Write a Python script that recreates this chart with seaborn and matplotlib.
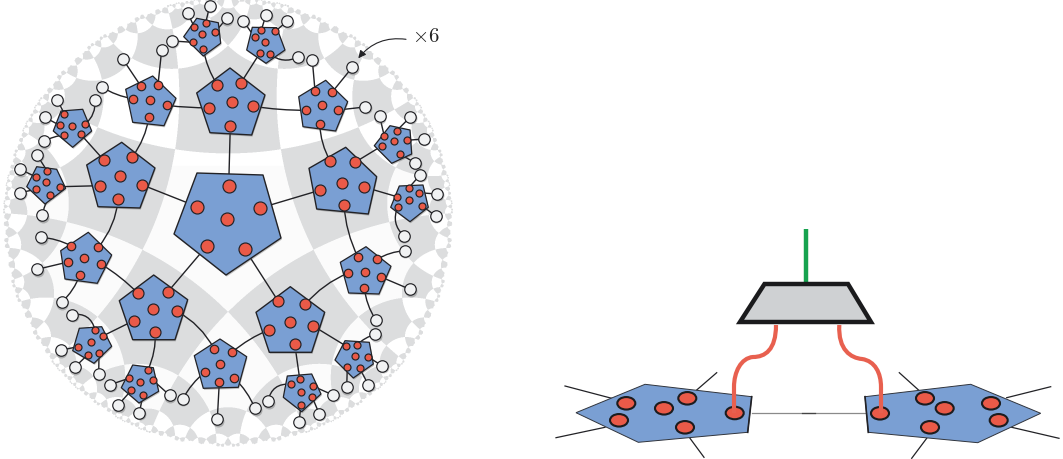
import numpy as np
import pandas as pd
import matplotlib
matplotlib.use("Agg")
import matplotlib.pyplot as plt
import seaborn as sns
from matplotlib.colors import LinearSegmentedColormap
from matplotlib.patches import Polygon, PathPatch, Ellipse
from matplotlib.path import Path

BLUE = "#7a9fd3"
RED = "#ea5a48"
GREY = "#dcddde"
INK = "#222226"
PORT = "#f1f2f3"

# disc of the tiling, in picture pixels
DISC_X, DISC_Y, DISC_R = 227.5, 222.5, 226.0
TILE_DEPTH = 5

# pentagon outlines
CENTRE_PENT = [(197, 173), (263, 175), (281, 238), (226, 275), (174, 234)]
BIG_PENTS = [
    [(196.7, 93), (230, 68), (265, 95), (251.7, 135), (210, 132.7)],
    [(121.7, 142.3), (155, 168), (140, 208), (98, 206.7), (86.7, 165)],
    [(345.7, 147.3), (376.7, 176.7), (368.3, 214), (316.7, 209), (309, 168.3)],
    [(153.7, 275), (187.7, 299.7), (175, 339.7), (132.7, 339.7), (119.3, 300.7)],
    [(290.3, 286.7), (324.7, 312.3), (311.7, 352.3), (269.3, 352.3), (256, 312.3)],
]
MID_PENTS = [
    [(152.7, 76), (176, 98.3), (164, 125.7), (132.7, 122.3), (125.7, 89.3)],
    [(325.7, 80.3), (347.7, 101.7), (335.7, 131), (303, 126.7), (298.7, 96.7)],
    [(366, 246.7), (391, 266.3), (379, 294), (348.7, 293), (340.3, 262.3)],
    [(220, 339), (246.7, 356.7), (238.3, 387.3), (203.3, 388.3), (194.3, 355.7)],
    [(88.3, 232.3), (111.7, 255), (97.3, 283.3), (65, 279), (60.7, 250.7)],
]
SMALL_PENTS = [
    [(196.7, 18.3), (218.3, 22.7), (220.7, 43.3), (203.3, 56), (183.7, 36.7)],
    [(252.3, 27.3), (276.7, 27.7), (285, 50), (266, 63.3), (246.7, 50)],
    [(390, 125.7), (410, 130), (411.7, 154), (391.7, 163.3), (374.3, 145.7)],
    [(399.3, 186), (423, 185), (428.3, 207.3), (410, 221.7), (390.7, 207.3)],
    [(345, 340.7), (369.3, 342.3), (373.3, 364), (353.3, 378), (335, 360)],
    [(287.3, 376), (311.7, 374), (321, 394), (301.7, 411.7), (283.3, 397.3)],
    [(132.7, 365), (153.3, 367.7), (158.7, 391.3), (139, 403), (121.3, 387.7)],
    [(79.3, 328.3), (101.7, 326.7), (111.7, 346.3), (94, 363.3), (72.7, 350.7)],
    [(36.7, 166.7), (56.7, 169.3), (65.7, 188.3), (45, 204), (26.7, 186.7)],
    [(61, 111), (82.7, 109.3), (91.7, 131), (72.7, 147.3), (53.3, 131)],
]

# red dots
CENTRE_DOTS = [(228.7, 186), (197.3, 206.7), (260.3, 208), (227, 218.7), (207, 245.7), (244.7, 249)]
BIG_DOTS = [
    (217.3, 85), (241, 82.7), (209, 107.7), (232, 102.3), (253.3, 106.3), (230.3, 125.7),
    (104, 160.3), (132.3, 157), (120, 176), (99.7, 185.7), (141.7, 184.7), (118.3, 199.3),
    (330.3, 161.3), (355, 162.3), (342.3, 182.7), (319.7, 190.3), (364, 187), (344, 204.7),
    (138, 293.3), (167.7, 292), (153, 309.3), (177, 311.3), (133.7, 320.7), (155.3, 332.3),
    (278.3, 301.3), (305.3, 304.3), (289.7, 321.7), (312.7, 325.7), (268.7, 330), (294.7, 343.7),
]
MID_DOTS = [
    (141, 86.3), (158, 84.7), (132.7, 98.7), (149.7, 100.3), (167, 105.3), (149, 117.3),
    (315, 90.7), (332, 92.3), (306.3, 110.3), (321.7, 105), (338, 110), (319.7, 124),
    (358, 257.3), (377, 259.3), (348.3, 273), (365, 272), (381, 277), (364.3, 287.7),
    (214, 348.7), (232.3, 352), (205, 372), (220, 364.3), (234.3, 378), (219.3, 382.3),
    (71, 245.7), (98.3, 247.3), (68, 262), (84, 258), (101, 264), (80, 274.7),
]
SMALL_DOTS = [
    (194.3, 27.3), (205.7, 22.7), (215, 32.3), (202.3, 34.3), (193.3, 42.3), (203.3, 48.7),
    (261.3, 30.3), (275.3, 31.3), (254.7, 37.3), (265, 41.7), (259.7, 53.3), (270, 54.3),
    (384.3, 136.3), (396.7, 130.7), (407, 140.3), (394, 141.3), (381.7, 146), (399.7, 154),
    (408.7, 188), (418.7, 192.7), (397, 196.7), (409, 199.7), (422, 205.7), (397.7, 207.3),
    (346, 346), (357, 344.7), (355.3, 356), (367.7, 356.7), (347.3, 367.3), (359.7, 368.3),
    (290.7, 384.3), (299.7, 379), (313.3, 386.3), (301.3, 391.7), (312.3, 397.3), (301, 405.3),
    (148, 369.7), (129, 378.3), (140.3, 381.7), (152.7, 380), (131.3, 390.3), (143, 395),
    (95, 329.7), (102.7, 336), (91.3, 342), (77.7, 346.7), (99, 353), (87.7, 354.7),
    (47, 170.7), (36, 177), (46.3, 181.7), (60.3, 186.7), (36, 189.3), (50.3, 195),
    (64.3, 113.7), (59.7, 125.3), (71.7, 125.7), (85.3, 124.3), (64.3, 135), (80.7, 134.3),
]

# wires: x0, y0, x1, y1, bend
WIRES = [
    (228.7, 186, 230.3, 125.7, 0), (197.3, 206.7, 141.7, 184.7, 0), (260.3, 208, 319.7, 190.3, 0),
    (207, 245.7, 167.7, 292, 0), (244.7, 249, 278.3, 301.3, 0),
    (209, 107.7, 167, 105.3, -.04), (253.3, 106.3, 306.3, 110.3, .04),
    (217.3, 85, 203.3, 48.7, -.1), (241, 82.7, 259.7, 53.3, 0),
    (104, 160.3, 80.7, 134.3, 0), (132.3, 157, 149, 117.3, .12),
    (99.7, 185.7, 60.3, 186.7, 0), (118.3, 199.3, 98.3, 247.3, -.15),
    (330.3, 161.3, 319.7, 124, -.12), (355, 162.3, 381.7, 146, 0),
    (364, 187, 397, 196.7, 0), (344, 204.7, 358, 257.3, .1),
    (138, 293.3, 101, 264, .06), (133.7, 320.7, 102.7, 336, 0),
    (155.3, 332.3, 148, 369.7, -.12), (177, 311.3, 214, 348.7, -.15),
    (312.7, 325.7, 346, 346, 0), (305.3, 304.3, 348.3, 273, -.12),
    (294.7, 343.7, 299.7, 379, 0), (268.7, 330, 232.3, 352, .08),
    # out to the open legs
    (141, 86.3, 122.7, 59, 0), (158, 84.7, 161.7, 50, 0), (132.7, 98.7, 101.7, 87, -.1),
    (315, 90.7, 312.3, 60, 0), (332, 92.3, 352.3, 67.3, 0), (338, 110, 365, 107, 0),
    (364.3, 287.7, 375.7, 319.7, .12), (381, 277, 410, 289.3, 0), (377, 259.3, 404.7, 250.7, -.12),
    (205, 372, 182.7, 399, .1), (219.3, 382.3, 217.3, 419.3, 0), (234.3, 378, 255, 408.3, -.1),
    (71, 245.7, 41.3, 237.3, .1), (68, 262, 37.3, 269.3, 0), (80, 274.7, 61.7, 302.3, -.12),
    (194.3, 27.3, 187.7, 12.7, 0), (205.7, 22.7, 209.7, 6, 0), (215, 32.3, 226.7, 18.3, 0), (193.3, 42.3, 172.3, 41, 0),
    (254.7, 37.3, 243.3, 21, 0), (261.3, 30.3, 266, 14.7, 0), (275.3, 31.3, 287, 21.3, 0), (270, 54.3, 298, 57.3, .3),
    (384.3, 136.3, 379.7, 116.3, 0), (396.7, 130.7, 410.3, 117, 0), (407, 140.3, 423.7, 139, 0), (399.7, 154, 415, 162.7, 0),
    (408.7, 188, 420.3, 174.7, 0), (418.7, 192.7, 437, 194, 0), (422, 205.7, 435.7, 216, 0), (397.7, 207.3, 403.7, 235.7, .35),
    (357, 344.7, 375.3, 334.3, -.12), (367.7, 356.7, 382, 365.7, 0), (359.7, 368.3, 368.3, 384.7, 0), (347.3, 367.3, 346.7, 387.3, 0),
    (290.7, 384.3, 268, 401.3, .45), (313.3, 386.3, 333, 395, 0), (312.3, 397.3, 319.3, 414, 0), (301, 405.3, 299, 422, 0),
    (129, 378.3, 110, 384.7, 0), (131.3, 390.3, 118, 405.3, 0), (143, 395, 139.3, 413, 0), (152.7, 380, 169.7, 395.3, 0),
    (95, 329.7, 72, 314.7, .45), (77.7, 346.7, 60.7, 350.3, 0), (87.7, 354.7, 74.7, 367.3, 0), (99, 353, 98.7, 374, 0),
    (47, 170.7, 37, 155, 0), (36, 177, 20.3, 169.3, 0), (36, 189.3, 20, 192.7, 0), (50.3, 195, 42.3, 215.3, .1),
    (64.3, 113.7, 57.3, 100, 0), (59.7, 125.3, 44.7, 117.3, 0), (64.3, 135, 44, 141.3, .1), (85.3, 124.3, 95, 99.7, .25),
]

# open legs (white circles)
PORTS = [
    (122.7, 59), (161.7, 50), (101.7, 87), (312.3, 60), (352.3, 67.3), (365, 107),
    (375.7, 319.7), (410, 289.3), (404.7, 250.7), (182.7, 399), (217.3, 419.3), (255, 408.3),
    (41.3, 237.3), (37.3, 269.3), (61.7, 302.3), (187.7, 12.7), (209.7, 6), (226.7, 18.3), (172.3, 41),
    (243.3, 21), (266, 14.7), (287, 21.3), (298, 57.3), (379.7, 116.3), (410.3, 117), (423.7, 139), (415, 162.7),
    (420.3, 174.7), (437, 194), (435.7, 216), (403.7, 235.7), (375.3, 334.3), (382, 365.7), (368.3, 384.7), (346.7, 387.3),
    (268, 401.3), (333, 395), (319.3, 414), (299, 422), (110, 384.7), (118, 405.3), (139.3, 413), (169.7, 395.3),
    (72, 314.7), (60.7, 350.3), (74.7, 367.3), (98.7, 374), (37, 155), (20.3, 169.3), (20, 192.7), (42.3, 215.3),
    (57.3, 100), (44.7, 117.3), (44, 141.3), (95, 99.7),
]

# right hand close-up
TRAPEZOID = [(764.5, 284), (848, 284), (871, 322), (740, 322)]
GREEN_LEG = [(805.7, 229), (805.7, 283)]
LEFT_HEX = [(645, 384.3), (751.7, 396.7), (747.7, 432.3), (638.3, 442.3), (576, 412.7)]
RIGHT_HEX = [(865, 396.7), (970.7, 384.3), (1040.7, 413.3), (977.7, 442.7), (868.3, 432.3)]
HEX_DOTS = [
    (626.3, 403.3), (619, 420.3), (664, 408.3), (687.3, 398.3), (734.7, 413), (685, 427.3),
    (880, 413.3), (925, 398.3), (944.7, 408.3), (991, 403.3), (998.7, 420.3), (930, 427.3),
]
HEX_LEGS = [
    (565, 386, 611.7, 398.3), (556, 437.7, 605, 427.3), (716.7, 372.7, 696.7, 390), (690, 438.3, 704, 457.3),
    (1050.7, 386.7, 1006.7, 397.7), (1059, 438.3, 1011.7, 427.3), (899.3, 372.7, 919.3, 390.7), (926.7, 438.3, 911.7, 458.3),
]
LEFT_RED = [(776, 325), (776, 350), (765, 357), (753, 357), (741, 358), (734, 372), (734, 387), (734, 413)]
RIGHT_RED = [(839.3, 325), (838, 350), (851, 358), (862, 359), (875, 361), (881, 373), (881, 387), (881, 413)]


def tile_parity(size, depth):
    # fold every point into the middle pentagon of the {5,4} tiling and count the reflections
    sub = 3
    n = size * sub
    axis = (np.arange(n) + 0.5) / n * size - size / 2
    xs, ys = np.meshgrid(axis / DISC_R, -axis / DISC_R)
    inside = xs ** 2 + ys ** 2 < 1
    lower = ys < 0.25
    angles = np.radians(-54 + 72 * np.arange(5))
    a = np.arccosh(np.cos(np.pi / 4) / np.sin(np.pi / 5))
    t = np.tanh(a / 2)
    d, rho = (1 + t ** 2) / (2 * t), (1 - t ** 2) / (2 * t)
    cx, cy = d * np.cos(angles), d * np.sin(angles)
    flips = np.zeros(xs.shape, dtype=int)
    for _ in range(depth + 2):
        for k in range(5):
            dx, dy = xs - cx[k], ys - cy[k]
            r2 = dx ** 2 + dy ** 2
            hit = r2 < rho ** 2
            xs[hit] = cx[k] + dx[hit] * rho ** 2 / r2[hit]
            ys[hit] = cy[k] + dy[hit] * rho ** 2 / r2[hit]
            flips[hit] += 1
    grey = ((flips % 2 == 1) & (flips <= depth) & inside).astype(float)
    # the pale cells are very slightly off-white in the lower part of the disc
    grey[(flips % 2 == 0) & (flips < depth - 2) & lower & inside] = 0.11
    return grey.reshape(size, sub, size, sub).mean(axis=(1, 3))


def wire_path(x0, y0, x1, y1, bend):
    dx, dy = x1 - x0, y1 - y0
    ctrl = ((x0 + x1) / 2 - bend * dy, (y0 + y1) / 2 + bend * dx)
    return Path([(x0, y0), ctrl, (x1, y1)], [Path.MOVETO, Path.CURVE3, Path.CURVE3])


def draw_pents(ax, pents, lw):
    for verts in pents:
        shadow = [(x + 0.8, y + 1.6) for x, y in verts]
        ax.add_patch(Polygon(shadow, closed=True, fc="#555555", ec="none", alpha=0.35, zorder=3))
        ax.add_patch(Polygon(verts, closed=True, fc=BLUE, ec=INK, lw=lw, joinstyle="round", zorder=4))


def draw_dots(ax, dots, px):
    frame = pd.DataFrame(dots, columns=["x", "y"])
    sns.scatterplot(data=frame, x="x", y="y", ax=ax, s=(px * 0.72) ** 2, color=RED,
                    edgecolor=INK, linewidth=0.85, zorder=5, legend=False)


def main():
    plt.rcParams["mathtext.fontset"] = "cm"
    fig = plt.figure(figsize=(10.63, 4.59), dpi=100)

    # background checker lives in its own axes so each cell is one pixel
    size = 456
    left, top = DISC_X - size / 2, DISC_Y - size / 2
    bg = fig.add_axes([left / 1063, 1 - (top + size) / 459, size / 1063, size / 459])
    cmap = LinearSegmentedColormap.from_list("checker", ["#ffffff", GREY])
    sns.heatmap(tile_parity(size, TILE_DEPTH), ax=bg, cmap=cmap, vmin=0, vmax=1, cbar=False,
                xticklabels=False, yticklabels=False)
    bg.axis("off")

    ax = fig.add_axes([0, 0, 1, 1])
    ax.patch.set_alpha(0)
    ax.set_xlim(0, 1063)
    ax.set_ylim(459, 0)

    for w in WIRES:
        ax.add_patch(PathPatch(wire_path(*w), fc="none", ec=INK, lw=1.0, zorder=2))

    draw_pents(ax, [CENTRE_PENT], 1.0)
    draw_pents(ax, BIG_PENTS, 1.0)
    draw_pents(ax, MID_PENTS, 0.9)
    draw_pents(ax, SMALL_PENTS, 0.9)
    draw_dots(ax, CENTRE_DOTS, 13)
    draw_dots(ax, BIG_DOTS, 11)
    draw_dots(ax, MID_DOTS, 8.5)
    draw_dots(ax, SMALL_DOTS, 7)

    ports = pd.DataFrame(PORTS, columns=["x", "y"])
    sns.scatterplot(data=ports.assign(x=ports.x + 0.7, y=ports.y + 1.2), x="x", y="y", ax=ax, s=(12 * 0.72) ** 2,
                    color="#555555", alpha=0.35, linewidth=0, zorder=5, legend=False)
    sns.scatterplot(data=ports, x="x", y="y", ax=ax, s=(11.5 * 0.72) ** 2, color=PORT,
                    edgecolor=INK, linewidth=0.85, zorder=6, legend=False)

    ax.text(412, 36, r"$\times 6$", fontsize=15, color="#222222", ha="left", va="center")
    ax.annotate("", xy=(358.3, 58.3), xytext=(406, 39.3),
                arrowprops=dict(arrowstyle="-|>,head_width=0.22,head_length=0.45", color=INK, lw=0.8,
                                connectionstyle="arc3,rad=0.28", shrinkA=0, shrinkB=0))

    # close-up on the right
    for x0, y0, x1, y1 in HEX_LEGS:
        ax.plot([x0, x1], [y0, y1], color=INK, lw=0.9, zorder=2)
    ax.plot([751.7, 865], [413.3, 413.3], color="#8a8a8a", lw=0.9, zorder=2)
    ax.plot([802, 815], [413.3, 413.3], color="#444444", lw=0.9, zorder=2)
    for hexagon in (LEFT_HEX, RIGHT_HEX):
        ax.add_patch(Polygon(hexagon, closed=True, fc=BLUE, ec="#30343c", lw=0.7, zorder=3))
    ax.plot(*zip(LEFT_HEX[1], LEFT_HEX[2]), color=INK, lw=1.2, zorder=3)
    ax.plot(*zip(RIGHT_HEX[0], RIGHT_HEX[4]), color=INK, lw=1.2, zorder=3)

    for x, y in HEX_DOTS:
        ax.add_patch(Ellipse((x, y), 18, 12.5, fc=RED, ec="#1c1c1e", lw=1.5, zorder=4))

    ax.plot(*zip(*GREEN_LEG), color="#17a34f", lw=3.2, solid_capstyle="butt", zorder=2)
    ax.add_patch(Polygon(TRAPEZOID, closed=True, fc="#cfd1d3", ec="#1b1b1d", lw=3.2, joinstyle="miter", zorder=3))
    codes = [Path.MOVETO, Path.CURVE4, Path.CURVE4, Path.CURVE4, Path.CURVE4, Path.CURVE4, Path.CURVE4, Path.LINETO]
    for curve in (LEFT_RED, RIGHT_RED):
        ax.add_patch(PathPatch(Path(curve, codes), fc="none", ec="#e8604f", lw=3.0, capstyle="butt", zorder=5))

    ax.axis("off")
    fig.savefig("out.png", dpi=100, facecolor="white")


if __name__ == "__main__":
    main()
